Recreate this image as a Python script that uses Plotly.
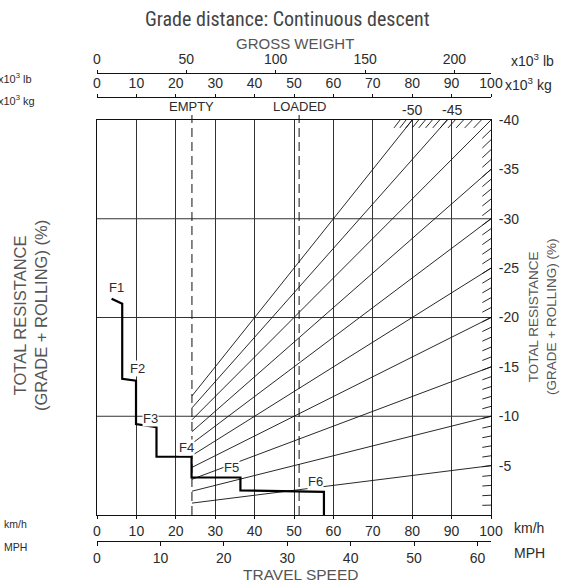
import plotly.graph_objects as go

# ---------------- data ----------------
KMH_TICKS = [0, 10, 20, 30, 40, 50, 60, 70, 80, 90, 100]
MPH_TICKS = [0, 10, 20, 30, 40, 50, 60]
KG_TICKS = [0, 10, 20, 30, 40, 50, 60, 70, 80, 90, 100]
LB_TICKS = [0, 50, 100, 150, 200]
RES_TICKS = [-40, -35, -30, -25, -20, -15, -10, -5]
RES_GRID = [-10, -20, -30]

GRADES = [-5, -10, -15, -20, -25, -30, -35, -40, -45, -50]
TOP_GRADE_LABELS = ["-50", "-45"]
TOP_GRADE_LABEL_KG = [80, 90]

EMPTY_KG = 24.1
LOADED_KG = 51.3

STEP_KMH = [3.7, 6.4, 6.4, 9.9, 9.9, 15.1, 15.1, 24.0, 24.0, 36.4, 36.4, 57.6, 57.6]
STEP_RES = [-21.9, -21.4, -13.8, -13.6, -9.2, -8.9, -5.9, -5.9, -3.8, -3.8, -2.5, -2.35, 0]

GEAR_LABELS = ["F1", "F2", "F3", "F4", "F5", "F6"]
GEAR_KMH = [4.9, 10.2, 13.6, 22.6, 34.1, 55.4]
GEAR_RES = [-23.0, -14.8, -9.8, -6.8, -4.85, -3.4]

KMH_MAX = 100
KG_MAX = 100
LB_PER_KG = 2.20462
MPH_PER_KMH = 0.621371
RES_MIN = -40

# ---------------- layout geometry ----------------
W, H = 573, 583
ML, MR, MT, MB = 97, 82, 70, 38
PH = H - MT - MB
PW = W - ML - MR


def py(pix):  # pixel y -> paper fraction
    return (H - MB - pix) / PH


def px(pix):  # pixel x -> paper fraction
    return (pix - ML) / PW


TXT = "#2b2b2b"
GRAYT = "#555555"
FONT = "Arial, Liberation Sans, Helvetica, sans-serif"

fig = go.Figure()

# fan lines (grade lines through the origin, starting at EMPTY line)
fx, fy = [], []
for g in GRADES:
    x_end = min(KMH_MAX, RES_MIN * 100 / g)
    fx += [EMPTY_KG, x_end, None]
    fy += [g * EMPTY_KG / 100, g * x_end / 100, None]
fig.add_trace(go.Scatter(x=fx, y=fy, mode="lines", line=dict(color="#111", width=0.9),
                         hoverinfo="skip", showlegend=False))

# hatch marks along right edge and top edge
hx, hy = [], []
for p in range(1, 40):
    g = -p
    x0 = KMH_MAX - 2.2
    hx += [x0, KMH_MAX, None]
    hy += [g * x0 / 100, g, None]
for p in range(41, 53):
    g = -p
    xt = RES_MIN * 100 / g
    xb = (RES_MIN + 0.8) * 100 / g
    hx += [xb, xt, None]
    hy += [RES_MIN + 0.8, RES_MIN, None]
fig.add_trace(go.Scatter(x=hx, y=hy, mode="lines", line=dict(color="#111", width=0.9),
                         hoverinfo="skip", showlegend=False))

# dashed EMPTY / LOADED lines
for xv in [EMPTY_KG, LOADED_KG]:
    fig.add_trace(go.Scatter(x=[xv, xv], y=[0, RES_MIN], mode="lines",
                             line=dict(color="#111", width=1, dash="9px,5px"),
                             hoverinfo="skip", showlegend=False))

# step speed curve
fig.add_trace(go.Scatter(x=STEP_KMH, y=STEP_RES, mode="lines",
                         line=dict(color="#000", width=2.2),
                         hoverinfo="skip", showlegend=False))

# dummy traces so the extra axes render
fig.add_trace(go.Scatter(x=[MPH_TICKS[0], MPH_TICKS[-1]], y=[0, 0], xaxis="x2", yaxis="y",
                         mode="markers", marker=dict(opacity=0), hoverinfo="skip", showlegend=False))
fig.add_trace(go.Scatter(x=[KG_TICKS[0], KG_TICKS[-1]], y=[0, 0], xaxis="x3", yaxis="y",
                         mode="markers", marker=dict(opacity=0), hoverinfo="skip", showlegend=False))
fig.add_trace(go.Scatter(x=[LB_TICKS[0], LB_TICKS[-1]], y=[0, 0], xaxis="x4", yaxis="y",
                         mode="markers", marker=dict(opacity=0), hoverinfo="skip", showlegend=False))

ydom = [py(515), py(120)]

common_axis = dict(showline=True, linecolor="#111", linewidth=1, ticks="outside",
                   tickcolor="#111", tickwidth=1, zeroline=False, automargin=False,
                   tickfont=dict(family=FONT, size=14, color=TXT))

fig.update_layout(
    width=W, height=H,
    margin=dict(l=ML, r=MR, t=MT, b=MB, pad=0, autoexpand=False),
    paper_bgcolor="white", plot_bgcolor="white",
    font=dict(family=FONT, color=TXT),
    xaxis=dict(domain=[0, 1], range=[0, KMH_MAX], anchor="y", side="bottom",
               tickvals=KMH_TICKS, ticktext=[str(v) for v in KMH_TICKS],
               showgrid=True, gridcolor="#333", gridwidth=1, mirror=True, ticklen=3,
               **common_axis),
    xaxis2=dict(overlaying="x", anchor="free", position=py(541), side="bottom",
                range=[0, KMH_MAX * MPH_PER_KMH], tickvals=MPH_TICKS,
                ticktext=[str(v) for v in MPH_TICKS], showgrid=False, ticklen=4,
                **common_axis),
    xaxis3=dict(overlaying="x", anchor="free", position=py(97), side="top",
                range=[0, KG_MAX], tickvals=KG_TICKS, ticktext=[str(v) for v in KG_TICKS],
                showgrid=False, ticklen=3, **common_axis),
    xaxis4=dict(overlaying="x", anchor="free", position=py(72.5), side="top",
                range=[0, KG_MAX * LB_PER_KG], tickvals=LB_TICKS,
                ticktext=[str(v) for v in LB_TICKS], showgrid=False, ticklen=3,
                **common_axis),
    yaxis=dict(domain=ydom, range=[0, RES_MIN], side="right", anchor="x",
               tickvals=RES_TICKS, ticktext=[str(v) for v in RES_TICKS],
               showgrid=False, showline=True, mirror=True, linecolor="#111", linewidth=1,
               ticks="outside", ticklen=4, tickcolor="rgba(0,0,0,0)", zeroline=False,
               automargin=False, tickfont=dict(family=FONT, size=14, color=TXT)),
)

shapes = []
for gy in RES_GRID:
    shapes.append(dict(type="line", xref="x", yref="y", x0=0, x1=KMH_MAX, y0=gy, y1=gy,
                       line=dict(color="#333", width=1), layer="below"))
for xv in [EMPTY_KG, LOADED_KG]:
    shapes.append(dict(type="line", xref="x", yref="paper", x0=xv, x1=xv,
                       y0=ydom[1], y1=py(115), line=dict(color="#111", width=1)))
fig.update_layout(shapes=shapes)

ann = []
# gear labels
for t, xv, yv in zip(GEAR_LABELS, GEAR_KMH, GEAR_RES):
    ann.append(dict(text=t, x=xv, y=yv, xref="x", yref="y", showarrow=False,
                    xanchor="center", yanchor="middle",
                    font=dict(family=FONT, size=13, color=TXT), bgcolor="white", borderpad=0))
# top grade labels
for t, xv in zip(TOP_GRADE_LABELS, TOP_GRADE_LABEL_KG):
    ann.append(dict(text=t, x=xv, y=py(110), xref="x", yref="paper", showarrow=False,
                    xanchor="center", yanchor="middle",
                    font=dict(family=FONT, size=14, color=TXT)))
# EMPTY / LOADED
for t, xv in [("EMPTY", EMPTY_KG), ("LOADED", LOADED_KG)]:
    ann.append(dict(text=t, x=xv, y=py(106), xref="x", yref="paper", showarrow=False,
                    xanchor="center", yanchor="middle",
                    font=dict(family=FONT, size=13, color=TXT)))


def txt(text, xp, yp, size, color=TXT, xanchor="left", angle=0, fam=FONT):
    ann.append(dict(text=text, x=px(xp), y=py(yp), xref="paper", yref="paper",
                    showarrow=False, xanchor=xanchor, yanchor="middle", textangle=angle,
                    font=dict(family=fam, size=size, color=color)))


# unit labels
txt("x10<sup>3</sup> lb", -4, 78, 11)
txt("x10<sup>3</sup> kg", -4, 100, 11)
txt("km/h", 2, 524, 10.5)
txt("MPH", 2, 547, 10.5)
txt("x10<sup>3</sup> lb", 509, 60, 14)
txt("x10<sup>3</sup> kg", 503, 84, 14)
txt("km/h", 512, 528, 14)
txt("MPH", 512, 553, 14)

# axis titles
txt("GROSS WEIGHT", 295, 43, 15, GRAYT, "center")
txt("TRAVEL SPEED", 300, 574, 15.5, GRAYT, "center")
txt("TOTAL RESISTANCE<br>(GRADE + ROLLING) (%)", 30, 316, 16.5, GRAYT, "center", -90)
txt("TOTAL RESISTANCE<br>(GRADE + ROLLING) (%)", 542, 317, 13.5, GRAYT, "center", -90)

# chart title
txt("Grade distance: Continuous descent", 287.5, 19, 20, "#444", "center",
    fam="Liberation Sans Narrow, Roboto Condensed, DejaVu Sans Condensed, Arial Narrow, sans-serif")

fig.update_layout(annotations=ann)

fig.write_html("out.html", config={"displayModeBar": False},
               post_script="document.body.style.margin='0';document.body.style.padding='0';")
